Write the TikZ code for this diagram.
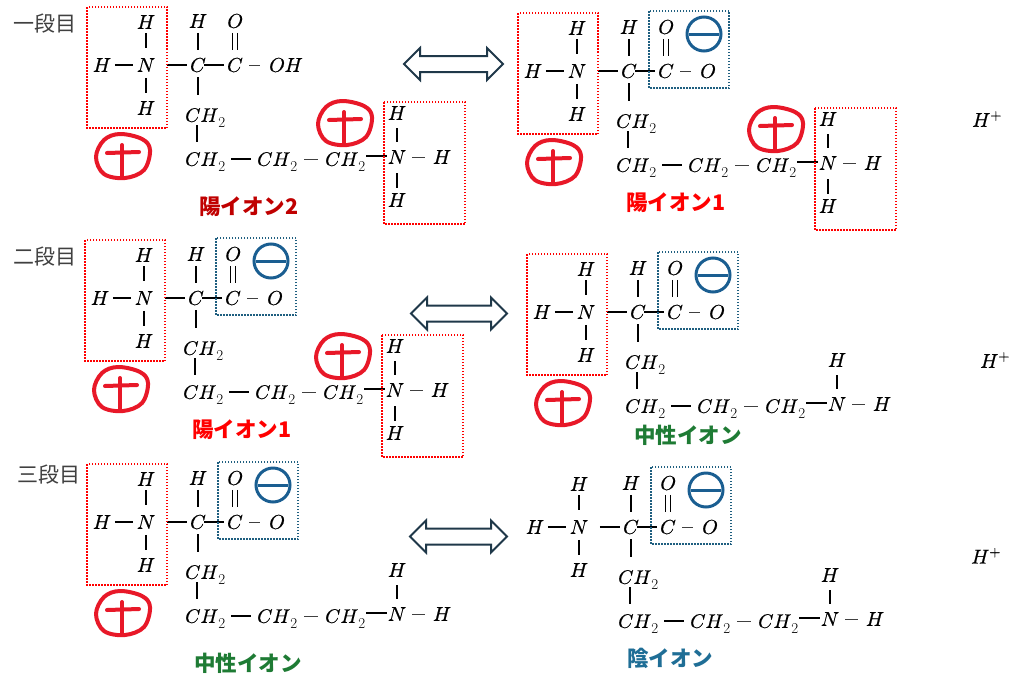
\documentclass[tikz,border=0pt]{standalone}
\usepackage{fontspec}
\usepackage{unicode-math}
\setmathfont{Latin Modern Math}[FakeBold=0.6]
\newfontfamily\jp{Noto Sans CJK JP}
\usetikzlibrary{calc}
\definecolor{plusred}{RGB}{232,24,40}
\definecolor{boxred}{RGB}{255,0,0}
\definecolor{boxblue}{RGB}{31,95,128}
\definecolor{minusblue}{RGB}{26,94,145}
\definecolor{arrowdark}{RGB}{31,56,73}
\definecolor{labdark}{RGB}{192,0,0}
\definecolor{labred}{RGB}{255,0,0}
\definecolor{labgreen}{RGB}{30,123,52}
\definecolor{labblue}{RGB}{31,110,150}
\definecolor{rowgrey}{RGB}{64,64,64}
\newcommand\chtwo{{\fontsize{19.5}{24}\selectfont$CH$}\raisebox{-6pt}{\fontsize{15}{15}\selectfont 2}}
\tikzset{
  atom/.style={inner sep=0pt, font=\fontsize{20}{24}\selectfont},
  bond/.style={line width=1.5pt, black},
  mbond/.style={line width=0.9pt, black!75},
  redbox/.style={draw=boxred, line width=1.5pt, dash pattern=on 1.5pt off 1.5pt},
  bluebox/.style={draw=boxblue, line width=1.5pt, dash pattern=on 1.5pt off 1.5pt},
  ionlabel/.style={inner sep=0pt, font=\jp\bfseries\fontsize{21.5}{24}\selectfont},
  rowlabel/.style={inner sep=0pt, anchor=west, text=rowgrey, font=\jp\fontsize{21}{24}\selectfont},
  plusline/.style={draw=plusred, line width=4pt, line cap=round, line join=round},
  minusline/.style={draw=minusblue, line width=3pt},
  arrowline/.style={draw=arrowdark, fill=white, line width=2pt, line join=miter},
  pics/plusmark/.style={code={
    \draw[plusline] plot[smooth cycle, tension=0.6] coordinates {(-3,-23) (19,-18) (27,-7) (21,13) (2,21) (-19,17) (-27,0) (-19,-17)};
    \draw[plusline] (-16,-4) -- (16,-5);
    \draw[plusline] (-1,-12) -- (-1,20);
  }},
  pics/minusmark/.style={code={
    \draw[minusline] (0,0) circle[radius=17pt];
    \draw[minusline] (-15,0) -- (15,0);
  }},
  pics/dblarr/.style={code={
    \draw[arrowline] (0,0) -- (16,-16) -- (16,-8) -- (#1-16,-8) -- (#1-16,-16) -- (#1,0)
      -- (#1-16,16) -- (#1-16,8) -- (16,8) -- (16,16) -- cycle;
  }}
}
% #1 prefix, #2 x, #3 y, #4 end group text, #5 1 = NH3 on the right
\newcommand\mol[5]{%
  \begin{scope}[shift={(#2,#3)}]
    \node[atom] (#1N)  at (0,0)    {$N$};
    \node[atom] (#1Ht) at (0,-43)  {$H$};
    \node[atom] (#1Hb) at (0,43)   {$H$};
    \node[atom] (#1Hl) at (-44,0)  {$H$};
    \node[atom] (#1C)  at (52,0)   {$C$};
    \node[atom] (#1HC) at (52,-44) {$H$};
    \node[atom] (#1K)  at (89,0)   {$C$};
    \node[atom] (#1O)  at (89,-44) {$O$};
    \node[atom, anchor=west] (#1E) at (123,0) {$#4$};
    \node[atom, anchor=base west] (#1Ca) at (39,56.8)  {\chtwo};
    \node[atom, anchor=base west] (#1Cb) at (39,100.8) {\chtwo};
    \node[atom, anchor=base west] (#1Cc) at (111,100.8) {\chtwo};
    \node[atom, anchor=base west] (#1Cd) at (179,100.8) {\chtwo};
    \node[atom] (#1N2)  at (251,92)  {$N$};
    \node[atom] (#1H2t) at (251,48)  {$H$};
    \node[atom] (#1H2r) at (296,92)  {$H$};
    \draw[bond] ($(#1Ht)!0.256!(#1N)$) -- ($(#1Ht)!0.605!(#1N)$);
    \draw[bond] ($(#1N)!0.30!(#1Hb)$) -- ($(#1N)!0.65!(#1Hb)$);
    \draw[bond] ($(#1Hl)!0.295!(#1N)$) -- ($(#1Hl)!0.705!(#1N)$);
    \draw[bond] ($(#1N)!0.40!(#1C)$) -- ($(#1N)!0.79!(#1C)$);
    \draw[bond] ($(#1HC)!0.27!(#1C)$) -- ($(#1HC)!0.66!(#1C)$);
    \draw[bond] ($(#1C)!0.16!(#1K)$) -- ($(#1C)!0.70!(#1K)$);
    \draw[bond] ($(#1O)!0.27!(#1K)+(-2.5,0)$) -- ($(#1O)!0.66!(#1K)+(-2.5,0)$);
    \draw[bond] ($(#1O)!0.27!(#1K)+(2.5,0)$) -- ($(#1O)!0.66!(#1K)+(2.5,0)$);
    \draw[mbond] ($(#1K)+(14,0)$) -- ($(#1K)+(25,0)$);
    \draw[bond] ($(#1C)+(0,12)$) -- ($(#1C)+(0,30)$);
    \draw[bond] ($(#1C)+(-1,60)$) -- ($(#1C)+(-1,77)$);
    \draw[bond] ($(#1Cb.base west)+(46,-6.8)$) -- ($(#1Cc.base west)+(-6,-6.8)$);
    \draw[mbond] ($(#1Cc.base west)+(47,-6.8)$) -- ($(#1Cd.base west)+(-7,-6.8)$);
    \draw[bond] ($(#1Cd.base west)+(41,-9.8)$) -- ($(#1N2)+(-10,-1)$);
    \draw[mbond] ($(#1N2)+(15,0)$) -- ($(#1N2)+(28,0)$);
    \draw[bond] ($(#1N2)+(0,-29)$) -- ($(#1N2)+(0,-15)$);
    \ifnum#5=1
      \node[atom] (#1H2b) at (251,135) {$H$};
      \draw[bond] ($(#1N2)+(0,16)$) -- ($(#1N2)+(0,31)$);
    \fi
  \end{scope}}
\newcommand\lbox[1]{\draw[redbox] ($(#1N)+(-59,-58)$) rectangle ($(#1N)+(21,63)$);}
\newcommand\rbox[1]{\draw[redbox] ($(#1N)+(238,37)$) rectangle ($(#1N)+(319,159)$);}
\newcommand\bbox[1]{\draw[bluebox] ($(#1N)+(72,-60)$) rectangle ($(#1N)+(152,17)$);
  \pic at ($(#1N)+(127,-37)$) {minusmark};}
\newcommand\lplus[1]{\pic at ($(#1N)+(-23,92)$) {plusmark};}
\newcommand\rplus[1]{\pic at ($(#1N)+(199,59)$) {plusmark};}
\begin{document}
\begin{tikzpicture}[x=1pt, y=-1pt]
  \fill[white] (0,0) rectangle (1024,680);
  \useasboundingbox (0,0) rectangle (1024,680);

  % row labels
  \node[rowlabel] (row1) at (13,24)  {一段目};
  \node[rowlabel] (row2) at (13,257) {二段目};
  \node[rowlabel] (row3) at (17,475) {三段目};

  % molecules
  \mol{a}{146}{65}{OH}{1}
  \mol{b}{577}{71}{O}{1}
  \mol{c}{144}{298}{O}{1}
  \mol{d}{586}{312}{O}{0}
  \mol{e}{146}{522}{O}{0}
  \mol{f}{579}{527}{O}{0}

  % boxes and charges
  \lbox{a} \rbox{a} \lplus{a} \rplus{a}
  \lbox{b} \rbox{b} \bbox{b} \lplus{b} \rplus{b}
  \lbox{c} \rbox{c} \bbox{c} \lplus{c} \rplus{c}
  \lbox{d} \bbox{d} \lplus{d}
  \lbox{e} \bbox{e} \lplus{e}
  \bbox{f}

  % equilibrium arrows
  \pic at (404,64) {dblarr=99};
  \pic at (411,313.5) {dblarr=96};
  \pic at (410,536.5) {dblarr=97};

  % protons
  \node[atom, anchor=base west] (hp1) at (972,126.8) {$H^{+}$};
  \node[atom, anchor=base west] (hp2) at (980,367.8) {$H^{+}$};
  \node[atom, anchor=base west] (hp3) at (971,563.5) {$H^{+}$};

  % ion labels
  \node[ionlabel, text=labdark]  (la) at (249,207) {陽イオン2};
  \node[ionlabel, text=labred]   (lb) at (676,203) {陽イオン1};
  \node[ionlabel, text=labred]   (lc) at (242,430) {陽イオン1};
  \node[ionlabel, text=labgreen] (ld) at (688,435) {中性イオン};
  \node[ionlabel, text=labgreen] (le) at (248,663) {中性イオン};
  \node[ionlabel, text=labblue]  (lf) at (670,658) {陰イオン};
\end{tikzpicture}
\end{document}
